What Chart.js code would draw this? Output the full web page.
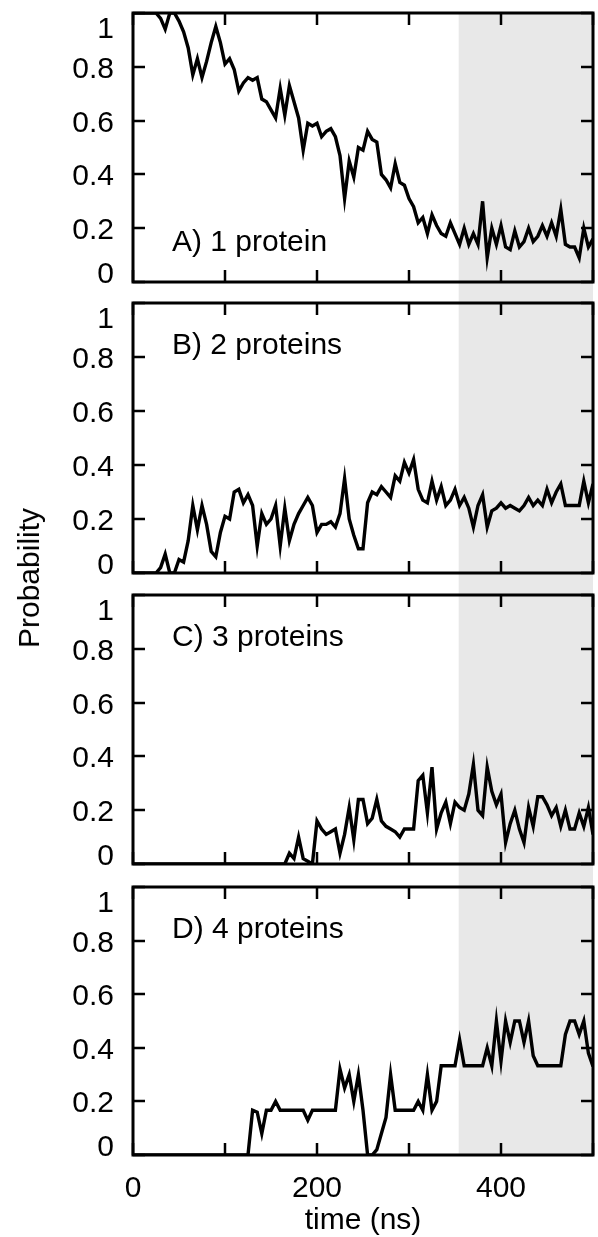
<!DOCTYPE html>
<html>
<head>
<meta charset="utf-8">
<title>Probability vs time</title>
<script src="https://cdn.jsdelivr.net/npm/chart.js@4.4.1/dist/chart.umd.min.js"></script>
<style>
  html, body { margin: 0; padding: 0; background: #fff; }
  #fig { position: relative; width: 598px; height: 1237px; font-family: "Liberation Sans", Arial, sans-serif; }
  .panel { position: absolute; left: 0; width: 598px; }
  #ytitle {
    position: absolute; left: 29px; top: 578px;
    transform: translate(-50%, -50%) rotate(-90deg);
    font-size: 30px; line-height: 30px; white-space: nowrap; color: #000;
  }
</style>
</head>
<body>
<div id="fig">
  <div class="panel" style="top:0px;height:292px"><canvas id="panelA" width="598" height="292"></canvas></div>
  <div class="panel" style="top:292px;height:292px"><canvas id="panelB" width="598" height="292"></canvas></div>
  <div class="panel" style="top:584px;height:292px"><canvas id="panelC" width="598" height="292"></canvas></div>
  <div class="panel" style="top:876px;height:361px"><canvas id="panelD" width="598" height="361"></canvas></div>
  <div id="ytitle">Probability</div>
</div>
<script>
// sampling times (ns)
const times = [
  0, 5, 10, 15, 20, 25, 30, 35, 40, 45,
  50, 55, 60, 65, 70, 75, 80, 85, 90, 95,
  100, 105, 110, 115, 120, 125, 130, 135, 140, 145,
  150, 155, 160, 165, 170, 175, 180, 185, 190, 195,
  200, 205, 210, 215, 220, 225, 230, 235, 240, 245,
  250, 255, 260, 265, 270, 275, 280, 285, 290, 295,
  300, 305, 310, 315, 320, 325, 330, 335, 340, 345,
  350, 355, 360, 365, 370, 375, 380, 385, 390, 395,
  400, 405, 410, 415, 420, 425, 430, 435, 440, 445,
  450, 455, 460, 465, 470, 475, 480, 485, 490, 495,
  500
];

const oneProtein = [
  1, 1, 1, 1, 1, 1, 0.98, 0.94, 1, 1,
  0.97, 0.93, 0.87, 0.77, 0.83, 0.76, 0.82, 0.89, 0.95, 0.89,
  0.81, 0.83, 0.79, 0.71, 0.74, 0.76, 0.75, 0.76, 0.68, 0.67,
  0.64, 0.61, 0.72, 0.62, 0.73, 0.67, 0.61, 0.49, 0.59, 0.58,
  0.59, 0.54, 0.56, 0.57, 0.54, 0.47, 0.31, 0.45, 0.39, 0.50,
  0.49, 0.56, 0.53, 0.52, 0.40, 0.38, 0.35, 0.44, 0.37, 0.36,
  0.31, 0.28, 0.22, 0.24, 0.18, 0.25, 0.21, 0.18, 0.17, 0.22,
  0.18, 0.14, 0.20, 0.14, 0.18, 0.14, 0.30, 0.09, 0.20, 0.14,
  0.21, 0.13, 0.12, 0.19, 0.13, 0.15, 0.20, 0.15, 0.17, 0.21,
  0.17, 0.22, 0.17, 0.27, 0.14, 0.13, 0.13, 0.09, 0.20, 0.13,
  0.16
];

const twoProteins = [
  0, 0, 0, 0, 0, 0, 0.02, 0.07, 0, 0,
  0.05, 0.04, 0.12, 0.25, 0.16, 0.25, 0.18, 0.08, 0.06, 0.15,
  0.21, 0.20, 0.30, 0.31, 0.26, 0.29, 0.25, 0.10, 0.22, 0.18,
  0.20, 0.25, 0.10, 0.24, 0.12, 0.18, 0.22, 0.25, 0.28, 0.25,
  0.15, 0.18, 0.18, 0.19, 0.17, 0.22, 0.35, 0.20, 0.14, 0.09,
  0.09, 0.26, 0.30, 0.29, 0.32, 0.30, 0.28, 0.36, 0.34, 0.41,
  0.37, 0.42, 0.31, 0.27, 0.26, 0.34, 0.27, 0.32, 0.25, 0.27,
  0.31, 0.25, 0.28, 0.24, 0.17, 0.25, 0.29, 0.17, 0.23, 0.24,
  0.26, 0.24, 0.25, 0.24, 0.23, 0.25, 0.28, 0.25, 0.27, 0.25,
  0.31, 0.26, 0.30, 0.33, 0.25, 0.25, 0.25, 0.25, 0.34, 0.26,
  0.33
];

const threeProteins = [
  0, 0, 0, 0, 0, 0, 0, 0, 0, 0,
  0, 0, 0, 0, 0, 0, 0, 0, 0, 0,
  0, 0, 0, 0, 0, 0, 0, 0, 0, 0,
  0, 0, 0, 0, 0.04, 0.02, 0.10, 0.02, 0.01, 0,
  0.16, 0.13, 0.11, 0.12, 0.13, 0.04, 0.11, 0.21, 0.09, 0.24,
  0.24, 0.15, 0.17, 0.24, 0.16, 0.14, 0.13, 0.12, 0.10, 0.13,
  0.13, 0.13, 0.31, 0.33, 0.19, 0.36, 0.13, 0.19, 0.23, 0.15,
  0.23, 0.21, 0.20, 0.26, 0.37, 0.20, 0.18, 0.36, 0.27, 0.22,
  0.26, 0.08, 0.15, 0.20, 0.13, 0.08, 0.21, 0.14, 0.25, 0.25,
  0.22, 0.18, 0.21, 0.14, 0.20, 0.13, 0.13, 0.19, 0.14, 0.21,
  0.11
];

const fourProteins = [
  0, 0, 0, 0, 0, 0, 0, 0, 0, 0,
  0, 0, 0, 0, 0, 0, 0, 0, 0, 0,
  0, 0, 0, 0, 0, 0, 0.167, 0.16, 0.08, 0.167,
  0.167, 0.2, 0.167, 0.167, 0.167, 0.167, 0.167, 0.167, 0.13, 0.167,
  0.167, 0.167, 0.167, 0.167, 0.167, 0.32, 0.25, 0.3, 0.2, 0.3,
  0.167, 0, 0, 0.02, 0.08, 0.14, 0.3, 0.167, 0.167, 0.167,
  0.167, 0.167, 0.2, 0.167, 0.3, 0.167, 0.2, 0.333, 0.333, 0.333,
  0.333, 0.43, 0.333, 0.333, 0.333, 0.333, 0.333, 0.4, 0.333, 0.5,
  0.35, 0.5, 0.42, 0.5, 0.5, 0.42, 0.5, 0.37, 0.333, 0.333,
  0.333, 0.333, 0.333, 0.333, 0.45, 0.5, 0.5, 0.45, 0.5, 0.38,
  0.33
];

const panelLabels = ['A) 1 protein', 'B) 2 proteins', 'C) 3 proteins', 'D) 4 proteins'];
const yTicks = [0, 0.2, 0.4, 0.6, 0.8, 1];
const yTickLabels = ['0', '0.2', '0.4', '0.6', '0.8', '1'];
const xTicks = [0, 100, 200, 300, 400, 500];
const xTickLabels = ['0', '', '200', '', '400', ''];
const xTitle = 'time (ns)';
// equilibrated window that gets the grey backdrop
const bandRange = [354, 500];

const FONT = '30px "Liberation Sans", Arial, sans-serif';

// frame, inward ticks, labels and grey band, gnuplot style
const panelDecor = {
  id: 'panelDecor',
  beforeDatasetsDraw(chart, args, opts) {
    const { ctx, chartArea: a, scales: { x } } = chart;
    const x0 = x.getPixelForValue(bandRange[0]);
    const x1 = x.getPixelForValue(bandRange[1]);
    const top = opts.bandTop ? a.top : 0;
    const bottom = opts.bandBottom ? a.bottom : chart.height;
    ctx.save();
    ctx.fillStyle = '#e8e8e8';
    ctx.fillRect(x0, top, x1 - x0, bottom - top);
    ctx.restore();
  },
  afterDraw(chart, args, opts) {
    const { ctx, chartArea: a, scales: { x, y } } = chart;
    const tick = 12;
    ctx.save();
    ctx.strokeStyle = '#000';
    ctx.lineWidth = 2.5;
    ctx.beginPath();
    yTicks.forEach(v => {
      const py = Math.round(y.getPixelForValue(v));
      ctx.moveTo(a.left, py); ctx.lineTo(a.left + tick, py);
      ctx.moveTo(a.right, py); ctx.lineTo(a.right - tick, py);
    });
    xTicks.forEach(v => {
      const px = Math.round(x.getPixelForValue(v));
      ctx.moveTo(px, a.bottom); ctx.lineTo(px, a.bottom - tick);
      ctx.moveTo(px, a.top); ctx.lineTo(px, a.top + tick);
    });
    ctx.stroke();
    ctx.lineWidth = 3;
    ctx.strokeRect(a.left, a.top, a.right - a.left, a.bottom - a.top);

    ctx.fillStyle = '#000';
    ctx.font = FONT;
    ctx.textBaseline = 'alphabetic';
    ctx.textAlign = 'right';
    yTicks.forEach((v, i) => {
      let py = y.getPixelForValue(v) + 11;
      if (v === y.max) py += 14;
      if (v === y.min) py -= 10;
      ctx.fillText(yTickLabels[i], a.left - 19, py);
    });

    ctx.textAlign = 'left';
    const ly = opts.labelAtBottom ? a.bottom - 31 : a.top + 51;
    ctx.fillText(opts.label, a.left + 39, ly);

    if (opts.xAxis) {
      ctx.textAlign = 'center';
      xTicks.forEach((v, i) => {
        if (xTickLabels[i]) ctx.fillText(xTickLabels[i], x.getPixelForValue(v), a.bottom + 42);
      });
      ctx.fillText(xTitle, (a.left + a.right) / 2, a.bottom + 74);
    }
    ctx.restore();
  }
};

function makePanel(id, values, idx, pad, extra) {
  return new Chart(document.getElementById(id), {
    type: 'line',
    data: {
      datasets: [{
        data: times.map((t, i) => ({ x: t, y: values[i] })),
        borderColor: '#000',
        borderWidth: 3.4,
        pointRadius: 0,
        tension: 0,
        fill: false
      }]
    },
    options: {
      responsive: false,
      animation: false,
      devicePixelRatio: 1,
      layout: { padding: { left: 133, right: 5, top: pad[0], bottom: pad[1] } },
      scales: {
        x: { type: 'linear', min: 0, max: 500, display: false },
        y: { type: 'linear', min: 0, max: 1, display: false }
      },
      plugins: {
        legend: { display: false },
        tooltip: { enabled: false },
        panelDecor: Object.assign({ label: panelLabels[idx] }, extra)
      }
    },
    plugins: [panelDecor]
  });
}

makePanel('panelA', oneProtein, 0, [13, 10], { labelAtBottom: true, bandTop: true });
makePanel('panelB', twoProteins, 1, [11, 11], {});
makePanel('panelC', threeProteins, 2, [11, 12], {});
makePanel('panelD', fourProteins, 3, [11, 82], { bandBottom: true, xAxis: true });
</script>
</body>
</html>
